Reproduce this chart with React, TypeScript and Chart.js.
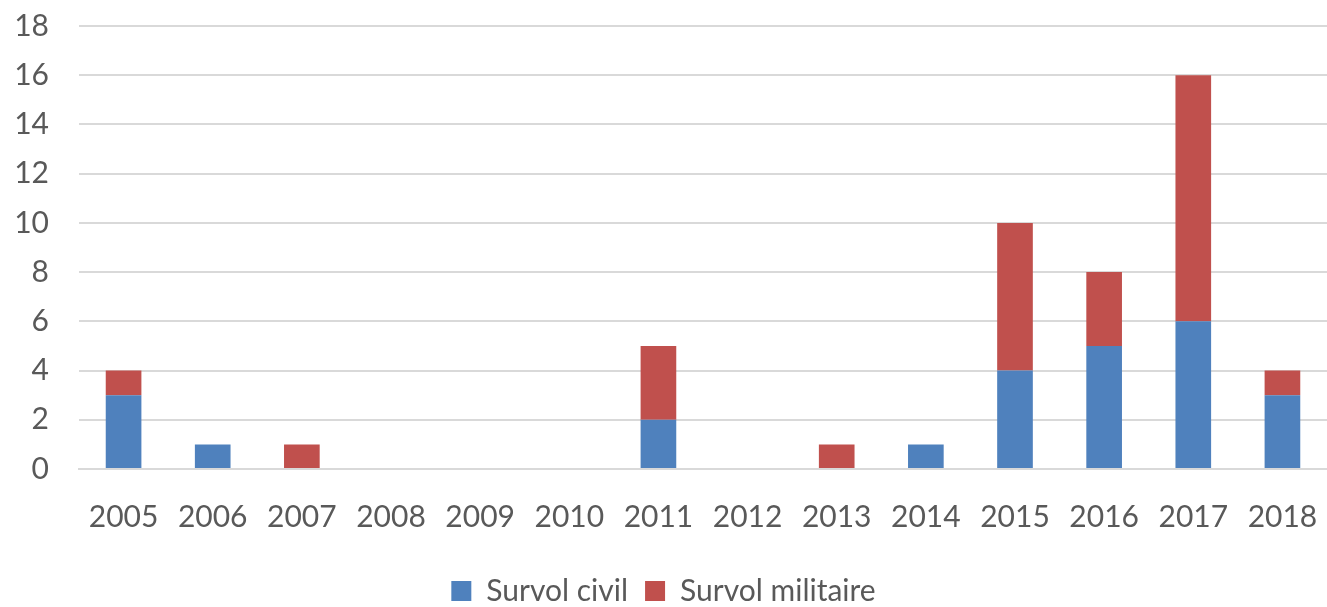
import React, { useEffect, useRef } from "react";
import { Chart, registerables } from "chart.js";

Chart.register(...registerables);

const years = ["2005", "2006", "2007", "2008", "2009", "2010", "2011", "2012", "2013", "2014", "2015", "2016", "2017", "2018"];
const survolCivil = [3, 1, 0, 0, 0, 0, 2, 0, 0, 1, 4, 5, 6, 3];
const survolMilitaire = [1, 0, 1, 0, 0, 0, 3, 0, 1, 0, 6, 3, 10, 1];
const seriesNames = ["Survol civil", "Survol militaire"];
const yMax = 18;
const yStep = 2;

const FONT = "Lato, 'Open Sans', sans-serif";
const TEXT = "#595959";
const GRID = "#d9d9d9";

export default function App() {
  const ref = useRef<HTMLCanvasElement | null>(null);

  useEffect(() => {
    if (!ref.current) return;
    const chart = new Chart(ref.current, {
      type: "bar",
      data: {
        labels: years,
        datasets: [
          { label: seriesNames[0], data: survolCivil, backgroundColor: "#4f81bd", barPercentage: 0.4, categoryPercentage: 1 },
          { label: seriesNames[1], data: survolMilitaire, backgroundColor: "#c0504d", barPercentage: 0.4, categoryPercentage: 1 },
        ],
      },
      options: {
        animation: false,
        responsive: false,
        maintainAspectRatio: false,
        layout: { padding: { top: 26, left: 0, right: 0, bottom: -9 } },
        plugins: {
          tooltip: { enabled: false },
          legend: {
            position: "bottom",
            labels: {
              font: { family: FONT, size: 30 },
              color: TEXT,
              boxWidth: 20,
              boxHeight: 20,
              padding: 17,
            },
          },
        },
        scales: {
          x: {
            stacked: true,
            grid: { display: false, drawTicks: false },
            border: { display: true, color: GRID, width: 2 },
            ticks: { font: { family: FONT, size: 30 }, color: TEXT, padding: 30, maxRotation: 0, autoSkip: false },
            afterFit: (scale: any) => {
              scale.paddingLeft = 0;
              scale.paddingRight = 0;
              scale.height = scale.height - 6;
            },
          },
          y: {
            stacked: true,
            min: 0,
            max: yMax,
            afterFit: (scale: any) => {
              scale.width = 79;
              scale.paddingTop = 0;
              scale.paddingBottom = 0;
            },
            grid: { color: GRID, lineWidth: 2, drawTicks: false },
            border: { display: false },
            ticks: { stepSize: yStep, font: { family: FONT, size: 30 }, color: TEXT, padding: 30 },
          },
        },
      },
    });
    return () => chart.destroy();
  }, []);

  return (
    <div style={{ position: "fixed", left: 0, top: 0, width: 1327, height: 607, background: "#fff" }}>
      <canvas ref={ref} width={1327} height={607} style={{ width: 1327, height: 607 }} />
    </div>
  );
}
